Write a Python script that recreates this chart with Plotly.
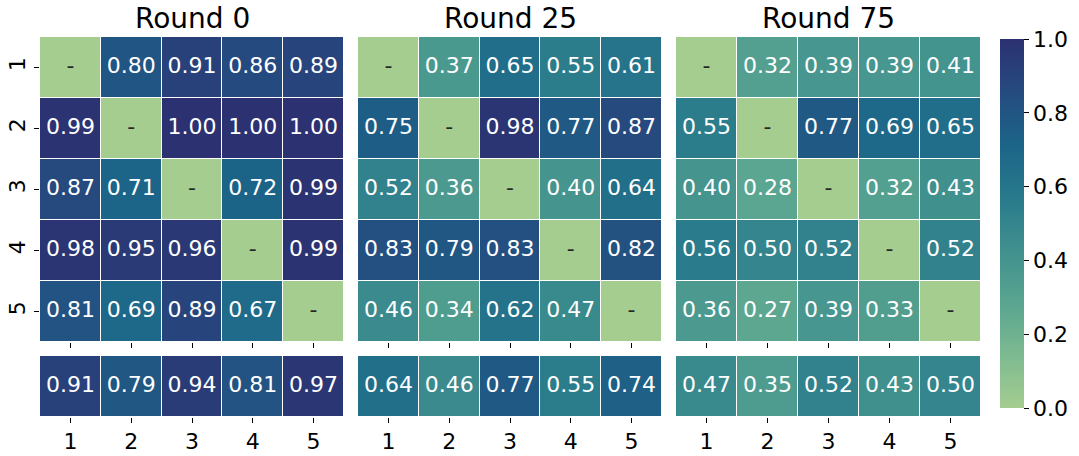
import plotly.graph_objects as go

# ---------------- data ----------------
rounds = ["Round 0", "Round 25", "Round 75"]
labels = ["1", "2", "3", "4", "5"]

r0_matrix = [
    [None, 0.80, 0.91, 0.86, 0.89],
    [0.99, None, 1.00, 1.00, 1.00],
    [0.87, 0.71, None, 0.72, 0.99],
    [0.98, 0.95, 0.96, None, 0.99],
    [0.81, 0.69, 0.89, 0.67, None],
]
r0_summary = [0.91, 0.79, 0.94, 0.81, 0.97]

r25_matrix = [
    [None, 0.37, 0.65, 0.55, 0.61],
    [0.75, None, 0.98, 0.77, 0.87],
    [0.52, 0.36, None, 0.40, 0.64],
    [0.83, 0.79, 0.83, None, 0.82],
    [0.46, 0.34, 0.62, 0.47, None],
]
r25_summary = [0.64, 0.46, 0.77, 0.55, 0.74]

r75_matrix = [
    [None, 0.32, 0.39, 0.39, 0.41],
    [0.55, None, 0.77, 0.69, 0.65],
    [0.40, 0.28, None, 0.32, 0.43],
    [0.56, 0.50, 0.52, None, 0.52],
    [0.36, 0.27, 0.39, 0.33, None],
]
r75_summary = [0.47, 0.35, 0.52, 0.43, 0.50]

matrices = [r0_matrix, r25_matrix, r75_matrix]
summaries = [r0_summary, r25_summary, r75_summary]

# seaborn "crest"
crest = [
    [0.0, "#a5cd90"], [1 / 7, "#7dba91"], [2 / 7, "#59a590"], [3 / 7, "#40908e"],
    [4 / 7, "#287a8c"], [5 / 7, "#1c6488"], [6 / 7, "#254b7f"], [1.0, "#2c3172"],
]

W, H = 1079, 456
FONT = "DejaVu Sans"
panel_x = [(40, 344), (358, 662), (676, 981)]
main_y = (37, 342)
sum_y = (356, 417)


def xd(a, b):
    return [a / W, b / W]


def yd(top, bot):
    return [1 - bot / H, 1 - top / H]


fig = go.Figure()
idx = list(range(5))

for p in range(3):
    mat = matrices[p]
    summ = summaries[p]
    ax_main = 2 * p + 1
    ax_sum = 2 * p + 2
    xm = "x" if ax_main == 1 else f"x{ax_main}"
    ym = "y" if ax_main == 1 else f"y{ax_main}"
    xs = f"x{ax_sum}"
    ys = f"y{ax_sum}"

    z = [[0.0 if v is None else v for v in row] for row in mat]
    fig.add_trace(go.Heatmap(z=z, x=idx, y=idx, coloraxis="coloraxis",
                             xgap=1, ygap=1, hoverinfo="skip",
                             xaxis=xm, yaxis=ym))
    tx, ty, tt, tc = [], [], [], []
    for i, row in enumerate(mat):
        for j, v in enumerate(row):
            tx.append(j)
            ty.append(i)
            if v is None:
                tt.append("-")
                tc.append("#262626")
            else:
                tt.append(f"{v:.2f}")
                tc.append("white")
    fig.add_trace(go.Scatter(x=tx, y=ty, text=tt, mode="text",
                             textfont=dict(family=FONT, size=22, color=tc),
                             showlegend=False, hoverinfo="skip",
                             xaxis=xm, yaxis=ym))

    fig.add_trace(go.Heatmap(z=[summ], x=idx, y=[0], coloraxis="coloraxis",
                             xgap=1, ygap=1, hoverinfo="skip",
                             xaxis=xs, yaxis=ys))
    fig.add_trace(go.Scatter(x=idx, y=[0] * 5, text=[f"{v:.2f}" for v in summ],
                             mode="text",
                             textfont=dict(family=FONT, size=22, color="white"),
                             showlegend=False, hoverinfo="skip",
                             xaxis=xs, yaxis=ys))

    x0, x1 = panel_x[p]
    axis_common = dict(showgrid=False, zeroline=False, showline=False, automargin=False,
                       ticks="outside", ticklen=5, tickwidth=1, tickcolor="black",
                       tickfont=dict(family=FONT, size=22, color="black"))
    key_m = "" if ax_main == 1 else str(ax_main)
    fig.layout[f"xaxis{key_m}"] = dict(
        domain=xd(x0, x1), anchor=ym, range=[-0.5, 4.5],
        tickvals=idx, ticktext=labels, showticklabels=False, **axis_common)
    if p == 0:
        fig.layout[f"yaxis{key_m}"] = dict(
            domain=yd(*main_y), anchor=xm, range=[4.5, -0.5],
            tickvals=idx, ticktext=labels, tickangle=-90, **axis_common)
    else:
        fig.layout[f"yaxis{key_m}"] = dict(
            domain=yd(*main_y), anchor=xm, range=[4.5, -0.5], automargin=False,
            showticklabels=False, ticks="", showgrid=False, zeroline=False)
    fig.layout[f"xaxis{ax_sum}"] = dict(
        domain=xd(x0, x1), anchor=ys, range=[-0.5, 4.5],
        tickvals=idx, ticktext=labels, **axis_common)
    fig.layout[f"yaxis{ax_sum}"] = dict(
        domain=yd(*sum_y), anchor=xs, range=[-0.5, 0.5], automargin=False,
        showticklabels=False, ticks="", showgrid=False, zeroline=False)

    fig.add_annotation(text=rounds[p], x=(x0 + x1) / 2 / W, y=1 - 37 / H,
                       xref="paper", yref="paper", xanchor="center", yanchor="bottom",
                       showarrow=False,
                       font=dict(family=FONT, size=28, color="black"))

fig.update_layout(
    width=W, height=H,
    margin=dict(l=0, r=0, t=0, b=0, autoexpand=False),
    paper_bgcolor="white", plot_bgcolor="white",
    showlegend=False,
    coloraxis=dict(
        colorscale=crest, cmin=0, cmax=1,
        colorbar=dict(
            x=1000 / W, xanchor="left", y=1 - 39 / H, yanchor="top",
            len=(408 - 39) / H, lenmode="fraction", thickness=24,
            xpad=0, ypad=0,
            outlinewidth=0, ticks="outside", ticklen=5, tickcolor="black",
            tickvals=[0, 0.2, 0.4, 0.6, 0.8, 1.0],
            ticktext=["0.0", "0.2", "0.4", "0.6", "0.8", "1.0"],
            tickfont=dict(family=FONT, size=22, color="black"),
        ),
    ),
)

fig.write_html("out.html", config={"displayModeBar": False},
               post_script="document.body.style.margin='0';document.body.style.overflow='hidden';")
